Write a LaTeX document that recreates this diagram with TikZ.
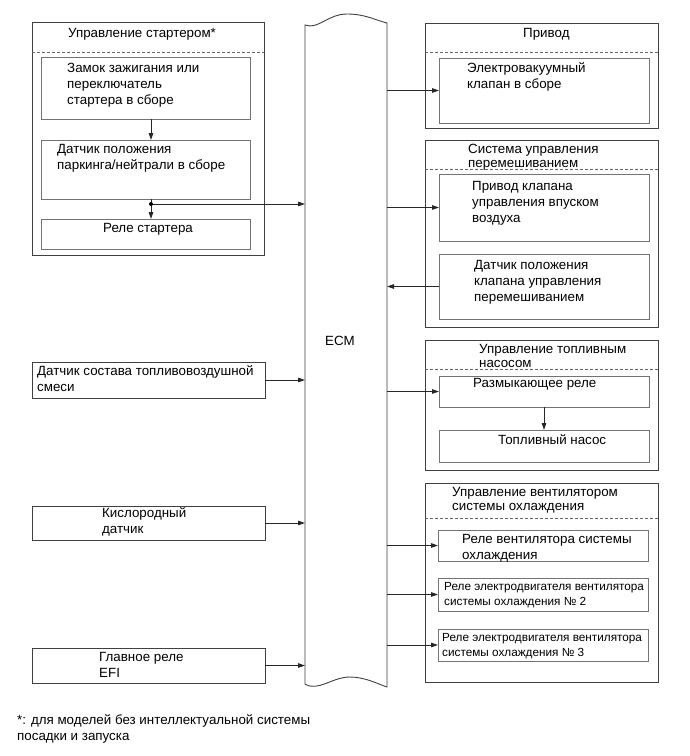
\documentclass[tikz,border=0pt]{standalone}
\usepackage{fontspec}
\setmainfont{Liberation Sans}
\usetikzlibrary{arrows.meta}
\tikzset{
  outerbox/.style={draw=black!75, line width=0.9bp, inner sep=0, outer sep=0, anchor=north west},
  innerbox/.style={draw=black!55, line width=0.9bp, inner sep=0, outer sep=0, anchor=north west},
  txt/.style={font=\fontsize{13.4}{16}\selectfont, align=left, inner sep=0, anchor=base west},
  txtt/.style={font=\fontsize{13.4}{14}\selectfont, align=left, inner sep=0, anchor=base west},
  stxt/.style={font=\fontsize{11.8}{15}\selectfont, align=left, inner sep=0, anchor=base west},
  sepline/.style={draw=black!60, dash pattern=on 3bp off 2bp, line width=0.8bp},
  arr/.style={draw=black!85, line width=0.8bp, -{Triangle[length=7bp,width=4.5bp]}},
  plain/.style={draw=black!85, line width=0.8bp},
}
\begin{document}
\begin{tikzpicture}[x=1bp,y=-1bp]
\useasboundingbox (0,0) rectangle (690,756);
\fill[white] (0,0) rectangle (690,756);

% ECM
\node[minimum width=82bp, minimum height=660bp, inner sep=0, outer sep=0] (ecm) at (346,355) {};
\draw[draw=black!75, line width=0.9bp] (305,25) -- (305,684)
  .. controls (318,692) and (332,677) .. (350,677)
  .. controls (365,677) and (378,684) .. (387,687)
  -- (387,23)
  .. controls (375,20) and (365,14) .. (347,14)
  .. controls (328,14) and (318,30) .. (305,25) -- cycle;
\node[txt] (ecmlabel) at (325,345) {ECM};

% Starter group
\node[outerbox, minimum width=232bp, minimum height=233bp] (st) at (32,22) {};
\draw[sepline] ([yshift=-30bp]st.north west) -- ([yshift=-30bp]st.north east);
\node[txt] (sttitle) at (68,38) {Управление стартером*};
\node[innerbox, minimum width=209bp, minimum height=62bp] (st1) at (41,57) {};
\node[txt] (st1t) at (67,104) {Замок зажигания или\\переключатель\\стартера в сборе};
\node[innerbox, minimum width=209bp, minimum height=59bp] (st2) at (41,140) {};
\node[txt] (st2t) at (57,169) {Датчик положения\\паркинга/нейтрали в сборе};
\node[innerbox, minimum width=209bp, minimum height=30bp] (st3) at (41,219) {};
\node[txt] (st3t) at (103,232) {Реле стартера};
\coordinate (dot) at (151,204);
\draw[arr] (st1.south -| dot) -- (st2.north -| dot);
\draw[plain] (st2.south -| dot) -- (dot);
\draw[arr] (dot) -- (st3.north -| dot);
\draw[arr] (dot) -- (dot -| ecm.west);
\fill[black] (dot) circle (2bp);

% Left inputs
\node[outerbox, minimum width=233bp, minimum height=36bp] (mix) at (32,362) {};
\node[txt] (mixt) at (37,391) {Датчик состава топливовоздушной\\смеси};
\node[outerbox, minimum width=233bp, minimum height=34bp] (o2) at (32,506) {};
\node[txt] (o2t) at (102,533) {Кислородный\\датчик};
\node[outerbox, minimum width=233bp, minimum height=35bp] (efi) at (32,648) {};
\node[txt] (efit) at (99,677) {Главное реле\\EFI};
\draw[arr] (mix.east) -- (mix.east -| ecm.west);
\draw[arr] (o2.east) -- (o2.east -| ecm.west);
\draw[arr] (efi.east) -- (efi.east -| ecm.west);

% Привод
\node[outerbox, minimum width=233bp, minimum height=105bp] (pr) at (425,23) {};
\draw[sepline] ([yshift=-29bp]pr.north west) -- ([yshift=-29bp]pr.north east);
\node[txt] (prt) at (523,38) {Привод};
\node[innerbox, minimum width=210bp, minimum height=65bp] (pr1) at (439,58) {};
\node[txt] (pr1t) at (467,88) {Электровакуумный\\клапан в сборе};
\draw[arr] (ecm.east |- pr1.west) -- (pr1.west);

% Система управления перемешиванием
\node[outerbox, minimum width=233bp, minimum height=187bp] (sm) at (425,140) {};
\draw[sepline] ([yshift=-29bp]sm.north west) -- ([yshift=-29bp]sm.north east);
\node[txtt] (smt) at (468,167) {Система управления\\перемешиванием};
\node[innerbox, minimum width=210bp, minimum height=67bp] (sm1) at (439,174) {};
\node[txt] (sm1t) at (472,222) {Привод клапана\\управления впуском\\воздуха};
\node[innerbox, minimum width=210bp, minimum height=65bp] (sm2) at (439,254) {};
\node[txt] (sm2t) at (474,301) {Датчик положения\\клапана управления\\перемешиванием};
\draw[arr] (ecm.east |- sm1.west) -- (sm1.west);
\draw[arr] (sm2.west) -- (ecm.east |- sm2.west);

% Управление топливным насосом
\node[outerbox, minimum width=233bp, minimum height=130bp] (fp) at (425,340) {};
\draw[sepline] ([yshift=-29bp]fp.north west) -- ([yshift=-29bp]fp.north east);
\node[txtt] (fpt) at (479,367) {Управление топливным\\насосом};
\node[innerbox, minimum width=210bp, minimum height=31bp] (fp1) at (439,376) {};
\node[txt] (fp1t) at (473,387) {Размыкающее реле};
\node[innerbox, minimum width=210bp, minimum height=32bp] (fp2) at (439,430) {};
\node[txt] (fp2t) at (498,444) {Топливный насос};
\draw[arr] (ecm.east |- fp1.west) -- (fp1.west);
\draw[arr] (fp1.south) -- (fp2.north);

% Управление вентилятором
\node[outerbox, minimum width=233bp, minimum height=199bp] (fan) at (425,483) {};
\draw[sepline] ([yshift=-35bp]fan.north west) -- ([yshift=-35bp]fan.north east);
\node[txtt] (fant) at (452,510) {Управление вентилятором\\системы охлаждения};
\node[innerbox, minimum width=210bp, minimum height=31bp] (fan1) at (438,530) {};
\node[txt] (fan1t) at (462,559) {Реле вентилятора системы\\охлаждения};
\node[innerbox, minimum width=210bp, minimum height=33bp] (fan2) at (438,578) {};
\node[stxt] (fan2t) at (444,605) {Реле электродвигателя вентилятора\\системы охлаждения № 2};
\node[innerbox, minimum width=210bp, minimum height=32bp] (fan3) at (438,629) {};
\node[stxt] (fan3t) at (442,656) {Реле электродвигателя вентилятора\\системы охлаждения № 3};
\draw[arr] (ecm.east |- fan1.west) -- (fan1.west);
\draw[arr] (ecm.east |- fan2.west) -- (fan2.west);
\draw[arr] (ecm.east |- fan3.west) -- (fan3.west);

% Footnote
\node[txt] (note) at (17,740) {*: для моделей без интеллектуальной системы\\посадки и запуска};
\end{tikzpicture}
\end{document}
